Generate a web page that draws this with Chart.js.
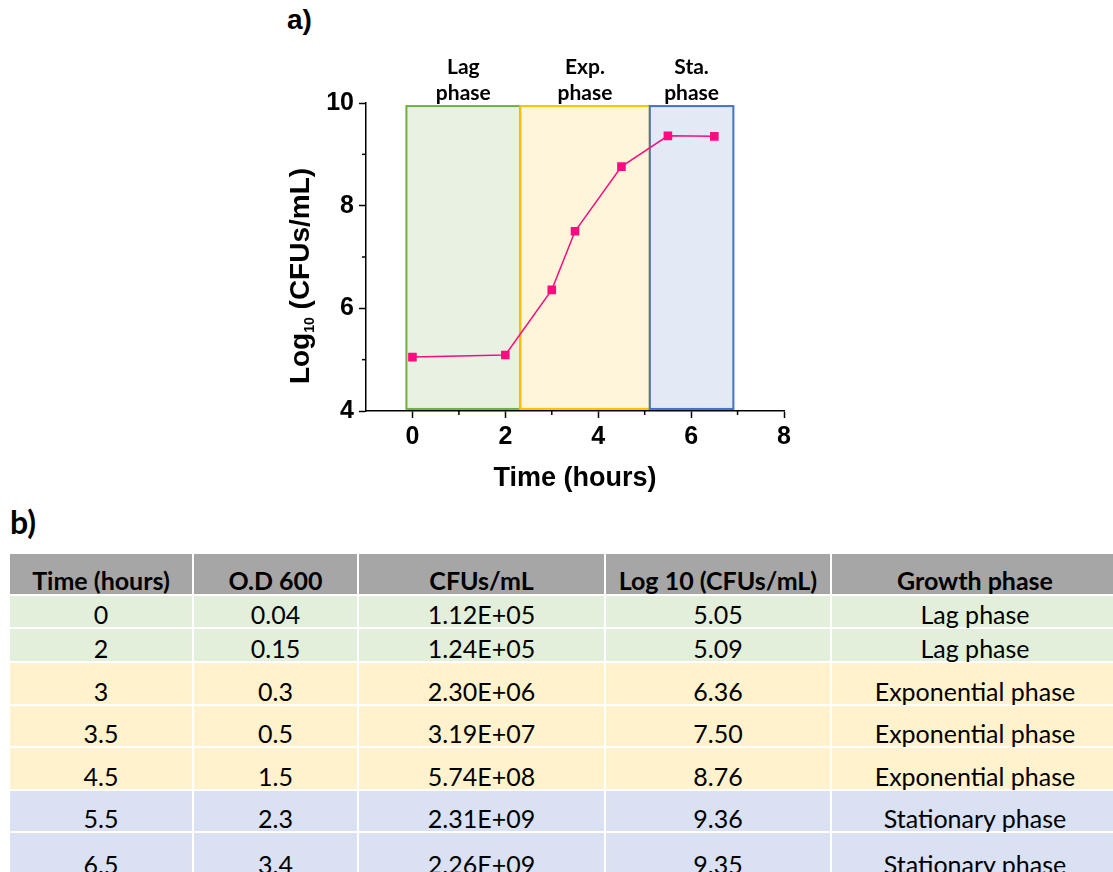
<!DOCTYPE html>
<html>
<head>
<meta charset="utf-8">
<script src="https://cdn.jsdelivr.net/npm/chart.js@4"></script>
<style>
  html, body { margin: 0; padding: 0; background: #fff; }
  body { width: 1113px; height: 872px; overflow: hidden; position: relative; }
  #chartBox { position: absolute; left: 0; top: 0; width: 1113px; height: 500px; }
  .panel { position: absolute; }
  #labelA { left: 287px; top: 4px; font: bold 28px "Liberation Sans", Arial, sans-serif; }
  #labelB { left: 10px; top: 502px; font: bold 32px Lato, sans-serif; }
  #dataTable {
    position: absolute; left: 10px; top: 554px; width: 1110px;
    border-collapse: separate; border-spacing: 0; table-layout: fixed;
    font-family: Lato, sans-serif; font-size: 25px; line-height: 26px; color: #000;
  }
  #dataTable th, #dataTable td {
    border-right: 2px solid #fff; border-bottom: 2px solid #fff;
    text-align: center; padding: 0; white-space: nowrap; vertical-align: bottom;
  }
  #dataTable th { background: #a6a6a6; font-weight: bold; padding-bottom: 1px; }
  .lag td { background: #e2efda; }
  .exp td { background: #fff2cc; }
  .sta td { background: #d9e1f2; }
</style>
</head>
<body>
<div id="labelA" class="panel">a)</div>
<div id="chartBox"><canvas id="growthChart"></canvas></div>
<div id="labelB" class="panel">b)</div>
<table id="dataTable">
  <colgroup>
    <col style="width:184px"><col style="width:165px"><col style="width:247px"><col style="width:226px"><col style="width:288px">
  </colgroup>
  <thead><tr id="headRow" style="height:42px"></tr></thead>
  <tbody id="tableBody"></tbody>
</table>
<script>
// growth curve data (time in hours)
const timeHours = [0, 2, 3, 3.5, 4.5, 5.5, 6.5];
const od600 = ['0.04', '0.15', '0.3', '0.5', '1.5', '2.3', '3.4'];
const cfusPerMl = ['1.12E+05', '1.24E+05', '2.30E+06', '3.19E+07', '5.74E+08', '2.31E+09', '2.26E+09'];
const log10Cfus = [5.05, 5.09, 6.36, 7.50, 8.76, 9.36, 9.35];
const growthPhase = ['Lag phase', 'Lag phase', 'Exponential phase', 'Exponential phase',
  'Exponential phase', 'Stationary phase', 'Stationary phase'];
const rowPhase = ['lag', 'lag', 'exp', 'exp', 'exp', 'sta', 'sta'];
const tableHeaders = ['Time (hours)', 'O.D 600', 'CFUs/mL', 'Log 10 (CFUs/mL)', 'Growth phase'];

// shaded phase boxes
const phaseLabels = [['Lag', 'phase'], ['Exp.', 'phase'], ['Sta.', 'phase']];
const phaseStart = [-0.13, 2.32, 5.11];
const phaseEnd = [2.32, 5.11, 6.91];
const phaseLow = 4.04;
const phaseHigh = 9.94;

const xTickLabels = [0, 2, 4, 6, 8];
const yTickLabels = [4, 6, 8, 10];

const phaseFill = ['#e9f2e2', '#fff5da', '#e3e9f5'];
const phaseBorder = ['#70ad47', '#ffc000', '#4472c4'];
const lineColor = '#fc0c80';

// table
const headRow = document.getElementById('headRow');
tableHeaders.forEach(h => {
  const th = document.createElement('th');
  th.textContent = h;
  headRow.appendChild(th);
});
const rowHeights = [33, 34, 43, 42, 43, 42, 46];
const body = document.getElementById('tableBody');
timeHours.forEach((t, i) => {
  const tr = document.createElement('tr');
  tr.className = rowPhase[i];
  tr.style.height = rowHeights[i] + 'px';
  [t, od600[i], cfusPerMl[i], log10Cfus[i].toFixed(2), growthPhase[i]].forEach(v => {
    const td = document.createElement('td');
    td.textContent = v;
    tr.appendChild(td);
  });
  body.appendChild(tr);
});

const AXIS_FONT = '"Liberation Sans", Arial, sans-serif';

const phasePlugin = {
  id: 'phases',
  beforeDatasetsDraw(chart) {
    const { ctx, scales: { x, y } } = chart;
    ctx.save();
    phaseStart.forEach((s, i) => {
      const x0 = x.getPixelForValue(s);
      const x1 = x.getPixelForValue(phaseEnd[i]);
      const y0 = y.getPixelForValue(phaseHigh);
      const y1 = y.getPixelForValue(phaseLow);
      ctx.fillStyle = phaseFill[i];
      ctx.fillRect(x0, y0, x1 - x0, y1 - y0);
    });
    phaseStart.forEach((s, i) => {
      const x0 = x.getPixelForValue(s);
      const x1 = x.getPixelForValue(phaseEnd[i]);
      const y0 = y.getPixelForValue(phaseHigh);
      const y1 = y.getPixelForValue(phaseLow);
      ctx.strokeStyle = phaseBorder[i];
      ctx.lineWidth = 2;
      ctx.strokeRect(x0, y0, x1 - x0, y1 - y0);
    });
    ctx.restore();
  },
  afterDraw(chart) {
    const { ctx, scales: { x, y } } = chart;
    ctx.save();
    // phase labels above the boxes
    ctx.fillStyle = '#000';
    ctx.font = 'bold 21px Lato, sans-serif';
    ctx.textAlign = 'center';
    ctx.textBaseline = 'alphabetic';
    phaseLabels.forEach((lines, i) => {
      const cx = (x.getPixelForValue(phaseStart[i]) + x.getPixelForValue(phaseEnd[i])) / 2;
      ctx.fillText(lines[0], cx, 74);
      ctx.fillText(lines[1], cx, 100);
    });

    // minor ticks
    ctx.strokeStyle = '#000';
    ctx.lineWidth = 1.5;
    [1, 3, 5, 7].forEach(v => {
      const px = x.getPixelForValue(v);
      ctx.beginPath();
      ctx.moveTo(px, x.top);
      ctx.lineTo(px, x.top + 4);
      ctx.stroke();
    });
    [5, 7, 9].forEach(v => {
      const py = y.getPixelForValue(v);
      ctx.beginPath();
      ctx.moveTo(y.right, py);
      ctx.lineTo(y.right - 4, py);
      ctx.stroke();
    });

    // x title
    ctx.font = 'bold 27px ' + AXIS_FONT;
    ctx.textBaseline = 'middle';
    ctx.fillText('Time (hours)', 575, 479);

    // y title with subscript
    ctx.translate(299, 276);
    ctx.rotate(-Math.PI / 2);
    const part1 = 'Log';
    const sub = '10';
    const part2 = ' (CFUs/mL)';
    ctx.font = 'bold 28px ' + AXIS_FONT;
    const w1 = ctx.measureText(part1).width;
    const w3 = ctx.measureText(part2).width;
    ctx.font = 'bold 14px ' + AXIS_FONT;
    const w2 = ctx.measureText(sub).width;
    const total = w1 + w2 + w3;
    let cx = -total / 2;
    ctx.textAlign = 'left';
    ctx.textBaseline = 'alphabetic';
    ctx.font = 'bold 28px ' + AXIS_FONT;
    ctx.fillText(part1, cx, 10);
    cx += w1;
    ctx.font = 'bold 14px ' + AXIS_FONT;
    ctx.fillText(sub, cx, 15);
    cx += w2;
    ctx.font = 'bold 28px ' + AXIS_FONT;
    ctx.fillText(part2, cx, 10);
    ctx.restore();
  }
};

new Chart(document.getElementById('growthChart'), {
  type: 'line',
  data: {
    datasets: [{
      label: 'Log10 (CFUs/mL)',
      data: timeHours.map((t, i) => ({ x: t, y: log10Cfus[i] })),
      borderColor: lineColor,
      backgroundColor: lineColor,
      borderWidth: 1.5,
      pointStyle: 'rect',
      pointRadius: 5,
      pointHoverRadius: 5,
      tension: 0
    }]
  },
  options: {
    responsive: true,
    maintainAspectRatio: false,
    animation: false,
    layout: {
      padding: { top: 103, right: 329, left: 0, bottom: 0 }
    },
    plugins: {
      legend: { display: false },
      tooltip: { enabled: false }
    },
    scales: {
      x: {
        type: 'linear',
        min: -1,
        max: 8,
        afterFit: scale => { scale.height = 89; },
        afterBuildTicks: scale => {
          scale.ticks = xTickLabels.map(v => ({ value: v }));
        },
        border: { color: '#000', width: 1.5 },
        grid: {
          drawOnChartArea: false,
          tickLength: 7,
          tickColor: '#000',
          tickWidth: 1.5
        },
        ticks: {
          color: '#000',
          padding: 4,
          font: { family: AXIS_FONT, size: 25, weight: 'bold' }
        }
      },
      y: {
        min: 4,
        max: 10,
        afterFit: scale => { scale.width = 366; },
        afterBuildTicks: scale => {
          scale.ticks = yTickLabels.map(v => ({ value: v }));
        },
        border: { color: '#000', width: 1.5 },
        grid: {
          drawOnChartArea: false,
          tickLength: 7,
          tickColor: '#000',
          tickWidth: 1.5
        },
        ticks: {
          color: '#000',
          padding: 5,
          font: { family: AXIS_FONT, size: 25, weight: 'bold' }
        }
      }
    }
  },
  plugins: [phasePlugin]
});
</script>
</body>
</html>
